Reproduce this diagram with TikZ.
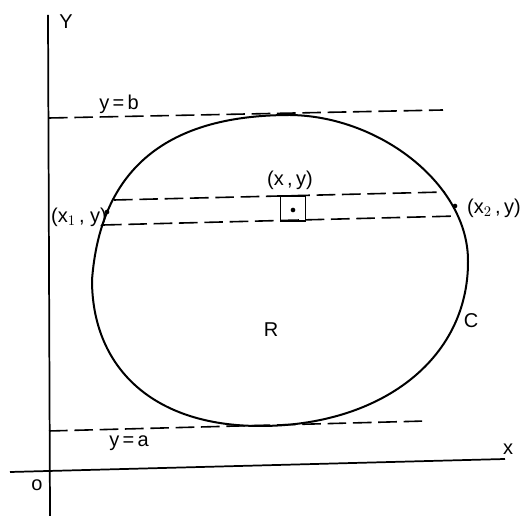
\documentclass[tikz,border=0pt]{standalone}
\usepackage{fontspec}
\setmainfont{Liberation Sans}
\begin{document}
\begin{tikzpicture}[x=0.75pt,y=-0.75pt,
  ln/.style={line width=1.3pt},
  dsh/.style={line width=1.2pt,dash pattern=on 14pt off 5pt},
  lbl/.style={inner sep=0pt,font=\fontsize{15}{17}\selectfont},
  pt/.style={circle,fill=black,inner sep=0pt,minimum size=3.5pt}]
\useasboundingbox (0,0) rectangle (526,516);
% axes
\coordinate (ytop) at (48,15);
\coordinate (ybot) at (50,516);
\coordinate (xl) at (10,472);
\coordinate (xr) at (505,459);
\draw[ln] (ybot) -- (ytop);
\draw[ln] (xl) -- (xr);
% region boundary C
\coordinate (top) at (290,115);
\coordinate (rt) at (468,262);
\coordinate (bot) at (260,426);
\coordinate (lf) at (92,280);
\draw[line width=1.5pt] (top)
  .. controls (380,116) and (469,185) .. (rt)
  .. controls (468,360) and (380,426) .. (bot)
  .. controls (150,426) and (92,365) .. (lf)
  .. controls (100,175) and (160,115) .. (top) -- cycle;
% horizontal dashed lines
\coordinate (bl) at (49,118);
\coordinate (br) at (443,110);
\coordinate (al) at (49,431);
\coordinate (ar) at (426,421);
\draw[dsh] (bl) -- (br);
\draw[dsh] (al) -- (ar);
\coordinate (ul) at (114,200);
\coordinate (ur) at (445,192);
\coordinate (ll) at (103,225);
\coordinate (lr) at (458,216);
\draw[dsh] (ul) -- (ur);
\draw[dsh] (ll) -- (lr);
% element square
\node[draw,line width=1.1pt,minimum width=19pt,minimum height=19pt,inner sep=0pt] (sq) at (293,208.5) {};
\node[pt] (c) at (293,210) {};
% points on C
\node[pt] (p1) at (107,212) {};
\node[pt] (p2) at (455,206) {};
% labels
\node[lbl] (Y) at (66,22) {Y};
\node[lbl] (X) at (508,449) {x};
\node[lbl] (O) at (37,485) {o};
\node[lbl] (yb) at (119,104) {y\,=\,b};
\node[lbl] (ya) at (129,443) {y\,=\,a};
\node[lbl] (x1) at (79,217) {(x$_{\fontsize{9}{10}\selectfont 1}$\,, y)};
\node[lbl] (xy) at (290,180) {(x\,,\,y)};
\node[lbl] (x2) at (494,208) {(x$_{\fontsize{11}{12}\selectfont 2}$\,,\,y)};
\node[lbl] (R) at (271,330) {R};
\node[lbl] (C) at (471,321) {C};
\end{tikzpicture}
\end{document}
